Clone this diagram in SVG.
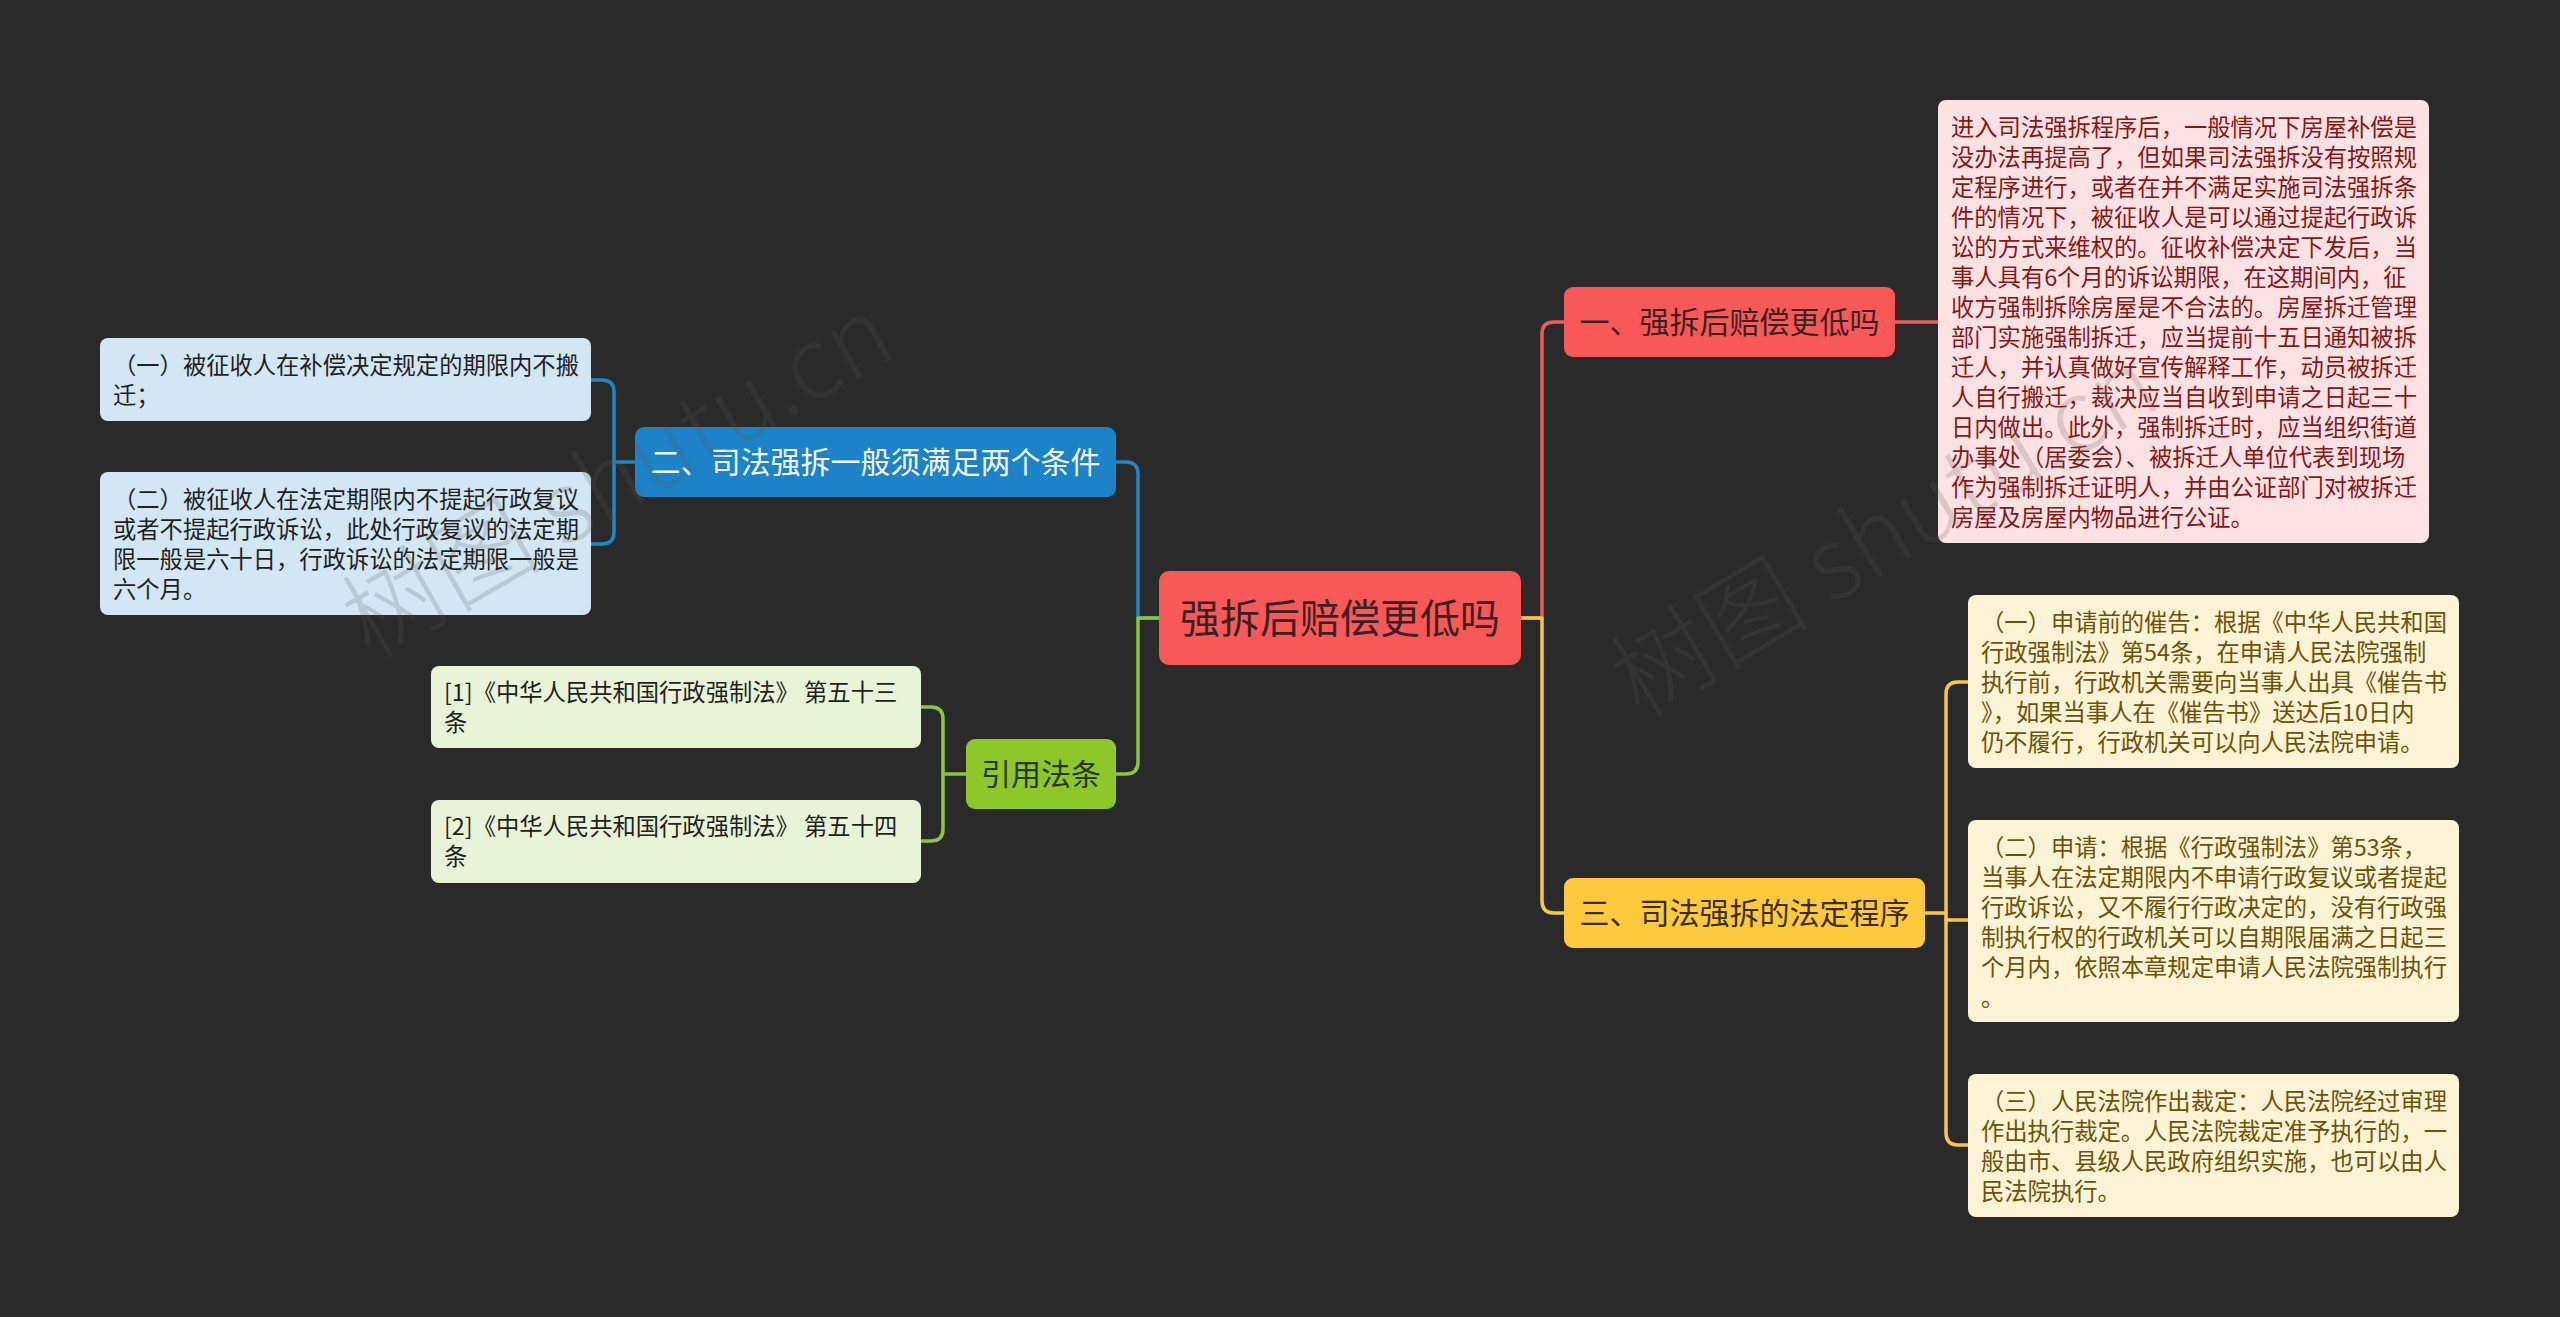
<svg xmlns="http://www.w3.org/2000/svg" width="2560" height="1317" viewBox="0 0 2560 1317">
<style>
.main{font-family:"Noto Sans CJK SC","Noto Sans",sans-serif;font-size:30px;text-anchor:middle}
.root{font-family:"Noto Sans CJK SC","Noto Sans",sans-serif;font-size:40px;text-anchor:middle;fill:#3b2222}
.body{font-family:"Noto Sans CJK SC","Noto Sans",sans-serif;font-size:23.3px}
.ln{fill:none;stroke-width:3.5;stroke-linecap:round;stroke-linejoin:round}
.wm{font-family:"Noto Sans CJK SC","Noto Sans",sans-serif;font-size:100px;font-weight:300;fill:#5a5a5a;fill-opacity:0.2}
</style>
<rect x="0" y="0" width="2560" height="1317" fill="#2a2a2a"/>
<g id="connectors">
<path class="ln" stroke="#f25a5a" d="M1521,618 H1542 V334 Q1542,322 1554,322 H1564"/>
<path class="ln" stroke="#f25a5a" d="M1895,322 H1938"/>
<path class="ln" stroke="#f7c845" d="M1521,618 H1542 V901 Q1542,913 1554,913 H1564"/>
<path class="ln" stroke="#f7c845" d="M1925,913 H1946 V694 Q1946,682 1958,682 H1968"/>
<path class="ln" stroke="#f7c845" d="M1946,913 V1133 Q1946,1145 1958,1145 H1968"/>
<path class="ln" stroke="#f7c845" d="M1946,920 H1968"/>
<path class="ln" stroke="#1f86c9" d="M1159,618 H1138 V474 Q1138,462 1126,462 H1116"/>
<path class="ln" stroke="#8cc63f" d="M1159,618 H1138 V762 Q1138,774 1126,774 H1116"/>
<path class="ln" stroke="#1f86c9" d="M635,462 H614 V392 Q614,380 602,380 H591"/>
<path class="ln" stroke="#1f86c9" d="M614,462 V532 Q614,544 602,544 H591"/>
<path class="ln" stroke="#8cc63f" d="M966,774 H943 V719 Q943,707 931,707 H921"/>
<path class="ln" stroke="#8cc63f" d="M943,774 V829 Q943,841 931,841 H921"/>
</g>
<g id="root">
<rect x="1159" y="571" width="362" height="94" rx="10" fill="#f95858"/>
<text class="root" x="1340" y="633">强拆后赔偿更低吗</text>
</g>
<g id="n1">
<rect x="1564" y="287" width="331" height="70" rx="9" fill="#f95858"/>
<text class="main" x="1729.5" y="333" fill="#3b2222">一、强拆后赔偿更低吗</text>
</g>
<g id="n1c">
<rect x="1938" y="100" width="491" height="443" rx="8" fill="#fde2e4"/>
<text class="body" fill="#8a1717">
<tspan x="1951" y="136">进入司法强拆程序后，一般情况下房屋补偿是</tspan>
<tspan x="1951" y="166">没办法再提高了，但如果司法强拆没有按照规</tspan>
<tspan x="1951" y="196">定程序进行，或者在并不满足实施司法强拆条</tspan>
<tspan x="1951" y="226">件的情况下，被征收人是可以通过提起行政诉</tspan>
<tspan x="1951" y="256">讼的方式来维权的。征收补偿决定下发后，当</tspan>
<tspan x="1951" y="286">事人具有6个月的诉讼期限，在这期间内，征</tspan>
<tspan x="1951" y="316">收方强制拆除房屋是不合法的。房屋拆迁管理</tspan>
<tspan x="1951" y="346">部门实施强制拆迁，应当提前十五日通知被拆</tspan>
<tspan x="1951" y="376">迁人，并认真做好宣传解释工作，动员被拆迁</tspan>
<tspan x="1951" y="406">人自行搬迁，裁决应当自收到申请之日起三十</tspan>
<tspan x="1951" y="436">日内做出。此外，强制拆迁时，应当组织街道</tspan>
<tspan x="1951" y="466">办事处（居委会）、被拆迁人单位代表到现场</tspan>
<tspan x="1951" y="496">作为强制拆迁证明人，并由公证部门对被拆迁</tspan>
<tspan x="1951" y="526">房屋及房屋内物品进行公证。</tspan>
</text>
</g>
<g id="n3">
<rect x="1564" y="878" width="361" height="70" rx="9" fill="#fdc93d"/>
<text class="main" x="1744.5" y="924" fill="#3c2e06">三、司法强拆的法定程序</text>
</g>
<g id="n3c1">
<rect x="1968" y="595" width="491" height="173" rx="8" fill="#fdf3d5"/>
<text class="body" fill="#6d5208">
<tspan x="1981" y="631">（一）申请前的催告：根据《中华人民共和国</tspan>
<tspan x="1981" y="661">行政强制法》第54条，在申请人民法院强制</tspan>
<tspan x="1981" y="691">执行前，行政机关需要向当事人出具《催告书</tspan>
<tspan x="1981" y="721">》，如果当事人在《催告书》送达后10日内</tspan>
<tspan x="1981" y="751">仍不履行，行政机关可以向人民法院申请。</tspan>
</text>
</g>
<g id="n3c2">
<rect x="1968" y="820" width="491" height="202" rx="8" fill="#fdf3d5"/>
<text class="body" fill="#6d5208">
<tspan x="1981" y="856">（二）申请：根据《行政强制法》第53条，</tspan>
<tspan x="1981" y="886">当事人在法定期限内不申请行政复议或者提起</tspan>
<tspan x="1981" y="916">行政诉讼，又不履行行政决定的，没有行政强</tspan>
<tspan x="1981" y="946">制执行权的行政机关可以自期限届满之日起三</tspan>
<tspan x="1981" y="976">个月内，依照本章规定申请人民法院强制执行</tspan>
<tspan x="1981" y="1006">。</tspan>
</text>
</g>
<g id="n3c3">
<rect x="1968" y="1074" width="491" height="143" rx="8" fill="#fdf3d5"/>
<text class="body" fill="#6d5208">
<tspan x="1981" y="1110">（三）人民法院作出裁定：人民法院经过审理</tspan>
<tspan x="1981" y="1140">作出执行裁定。人民法院裁定准予执行的，一</tspan>
<tspan x="1981" y="1170">般由市、县级人民政府组织实施，也可以由人</tspan>
<tspan x="1981" y="1200">民法院执行。</tspan>
</text>
</g>
<g id="n2">
<rect x="635" y="427" width="481" height="70" rx="9" fill="#1d83c9"/>
<text class="main" x="875.5" y="473" fill="#f5f5f5">二、司法强拆一般须满足两个条件</text>
</g>
<g id="n2c1">
<rect x="100" y="338" width="491" height="83" rx="8" fill="#d3e6f4"/>
<text class="body" fill="#1f1f1f">
<tspan x="113" y="374">（一）被征收人在补偿决定规定的期限内不搬</tspan>
<tspan x="113" y="404">迁；</tspan>
</text>
</g>
<g id="n2c2">
<rect x="100" y="472" width="491" height="143" rx="8" fill="#d3e6f4"/>
<text class="body" fill="#1f1f1f">
<tspan x="113" y="508">（二）被征收人在法定期限内不提起行政复议</tspan>
<tspan x="113" y="538">或者不提起行政诉讼，此处行政复议的法定期</tspan>
<tspan x="113" y="568">限一般是六十日，行政诉讼的法定期限一般是</tspan>
<tspan x="113" y="598">六个月。</tspan>
</text>
</g>
<g id="n4">
<rect x="966" y="739" width="150" height="70" rx="9" fill="#8dc728"/>
<text class="main" x="1041" y="785" fill="#27380c">引用法条</text>
</g>
<g id="n4c1">
<rect x="431" y="666" width="490" height="82" rx="8" fill="#e8f3d8"/>
<text class="body" fill="#1f1f1f">
<tspan x="444" y="701">[1]《中华人民共和国行政强制法》 第五十三</tspan>
<tspan x="444" y="731">条</tspan>
</text>
</g>
<g id="n4c2">
<rect x="431" y="800" width="490" height="83" rx="8" fill="#e8f3d8"/>
<text class="body" fill="#1f1f1f">
<tspan x="444" y="835">[2]《中华人民共和国行政强制法》 第五十四</tspan>
<tspan x="444" y="865">条</tspan>
</text>
</g>
<g id="watermark">
<text class="wm" transform="translate(370,660) rotate(-30)">树图 shutu.cn</text>
<text class="wm" transform="translate(1640,720) rotate(-31)">树图 shutu.cn</text>
</g>
</svg>
